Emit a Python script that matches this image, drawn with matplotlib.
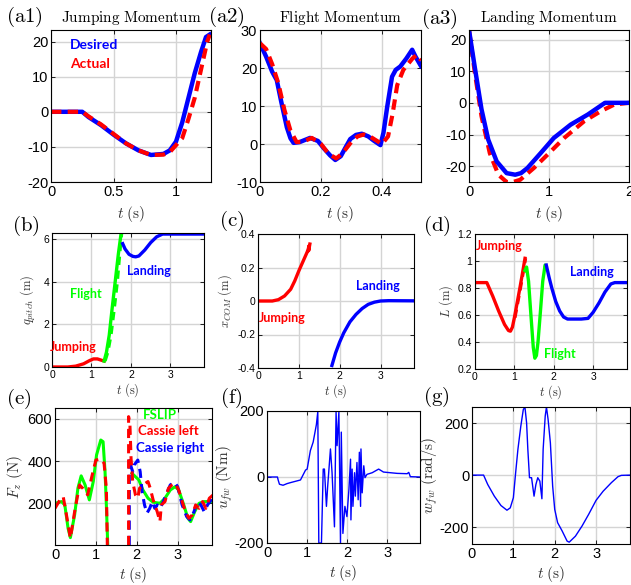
import matplotlib
matplotlib.use("Agg")
import matplotlib.pyplot as plt
from matplotlib.ticker import FormatStrFormatter

plt.rcParams['font.family'] = ['Liberation Sans', 'DejaVu Sans']
plt.rcParams['mathtext.fontset'] = 'cm'
plt.rcParams['axes.unicode_minus'] = False

# (a1) jumping momentum
a1_t_des = [0, 0.25, 0.3, 0.4, 0.5, 0.6, 0.7, 0.8, 0.9, 0.95, 1.0, 1.05, 1.1, 1.15, 1.2, 1.24, 1.27]
a1_des = [0, 0, -1.5, -3.8, -6.5, -9, -11, -12.3, -12, -11, -8.5, -3, 4, 11, 17, 21.3, 22]
a1_t_act = [0, 0.25, 0.3, 0.4, 0.5, 0.6, 0.7, 0.8, 0.9, 0.95, 1.0, 1.05, 1.1, 1.15, 1.2, 1.25, 1.27]
a1_act = [0, 0, -1.3, -3.6, -6.3, -9, -11, -12.3, -12.2, -11.5, -9.5, -7.5, -2, 4, 12, 20, 22]

# (a2) flight momentum
a2_t_des = [0, 0.02, 0.04, 0.055, 0.07, 0.088, 0.1, 0.11, 0.13, 0.164, 0.19, 0.21, 0.23, 0.247,
            0.265, 0.28, 0.296, 0.315, 0.334, 0.355, 0.373, 0.395, 0.405, 0.417, 0.433, 0.445,
            0.46, 0.48, 0.499, 0.51, 0.528]
a2_des = [26.5, 23, 19, 16.8, 11, 4.4, 1.5, 0.3, 0.5, 1.6, 0.8, -1.2, -3, -4.2,
          -3.2, -1, 1.3, 2.4, 2.7, 2, 0.9, -0.3, 3, 9.7, 17.7, 19.5,
          20.4, 22.5, 24.8, 23, 20.5]
a2_t_act = [0, 0.02, 0.04, 0.06, 0.08, 0.1, 0.12, 0.14, 0.17, 0.2, 0.225, 0.25, 0.27, 0.3,
            0.32, 0.34, 0.36, 0.38, 0.4, 0.42, 0.435, 0.45, 0.47, 0.5, 0.515, 0.528]
a2_act = [26.5, 25, 21, 16, 9, 3.5, 0.5, 0.6, 1.6, 0, -2.6, -3.8, -2.5, 0.6,
          2, 2.5, 2, 1, 0, 2, 8, 15.5, 19.5, 22.5, 23.5, 22]

# (a3) landing momentum
a3_t_des = [0, 0.07, 0.156, 0.24, 0.346, 0.47, 0.578, 0.65, 0.73, 0.895, 1.06, 1.27, 1.485, 1.70, 2.0]
a3_des = [23, 11.6, -2, -11.6, -18.5, -22.2, -22.7, -22.2, -20.6, -15.9, -11.1, -6.9, -3.7, 0, 0]
a3_t_act = [0, 0.07, 0.156, 0.26, 0.367, 0.47, 0.55, 0.64, 0.81, 0.98, 1.19, 1.44, 1.65, 1.82, 2.0]
a3_act = [23, 10, -4.2, -15.9, -22.7, -25, -25, -24.3, -20.6, -16.4, -11.1, -5.8, -2.6, -0.5, 0]

# (b) pitch
b_t_jump = [0, 0.4, 0.6, 0.8, 0.95, 1.05, 1.15, 1.25, 1.32]
b_jump = [0, 0, 0.04, 0.15, 0.3, 0.38, 0.38, 0.32, 0.28]
b_t_fl = [1.32, 1.38, 1.45, 1.52, 1.6, 1.68, 1.75]
b_fl = [0.28, 0.7, 1.5, 2.7, 4.0, 5.3, 6.28]
b_t_fl2 = [1.35, 1.42, 1.5, 1.58, 1.66, 1.72, 1.77]
b_t_land = [1.79, 1.85, 1.95, 2.05, 2.12, 2.2, 2.35, 2.5, 2.65, 2.8, 3.85]
b_land = [5.8, 5.55, 5.3, 5.2, 5.18, 5.22, 5.5, 5.85, 6.12, 6.25, 6.25]

# (c) x_COM
c_t_jump = [0, 0.35, 0.5, 0.65, 0.8, 0.9, 1.0, 1.1, 1.2, 1.23, 1.25, 1.24, 1.27]
c_jump = [0, 0, 0.008, 0.03, 0.07, 0.12, 0.18, 0.235, 0.29, 0.31, 0.33, 0.3, 0.34]
c_t_land = [1.81, 1.9, 2.0, 2.1, 2.25, 2.4, 2.55, 2.7, 2.85, 3.0, 3.2, 3.82]
c_land = [-0.385, -0.31, -0.245, -0.19, -0.125, -0.08, -0.045, -0.02, -0.007, 0.0, 0.002, 0.001]

# (d) leg length
d_t_jump = [0, 0.3, 0.45, 0.6, 0.75, 0.85, 0.9, 0.95, 1.0, 1.07, 1.14, 1.2, 1.27]
d_jump = [0.84, 0.84, 0.74, 0.63, 0.53, 0.485, 0.48, 0.51, 0.58, 0.69, 0.8, 0.9, 1.02]
d_t_fl = [1.27, 1.31, 1.36, 1.42, 1.48, 1.52, 1.56, 1.6, 1.66, 1.72, 1.78, 1.8]
d_fl = [0.93, 0.955, 0.85, 0.6, 0.36, 0.28, 0.3, 0.4, 0.62, 0.85, 0.97, 0.96]
d_t_land = [1.81, 1.88, 1.95, 2.05, 2.15, 2.25, 2.35, 2.5, 2.7, 2.87, 3.0, 3.15, 3.3, 3.45, 3.55, 3.86]
d_land = [0.97, 0.88, 0.8, 0.7, 0.63, 0.585, 0.57, 0.57, 0.57, 0.575, 0.62, 0.69, 0.77, 0.83, 0.84, 0.84]

# (e) vertical force
e_t_slip = [0, 0.16, 0.24, 0.32, 0.376, 0.48, 0.56, 0.64, 0.736, 0.84, 0.936, 1.016, 1.12, 1.176,
            1.224, 1.256, 1.29]
e_slip = [200, 208, 192, 81, 37, 145, 271, 330, 287, 216, 303, 429, 500, 492,
          350, 192, 2]
e_t_slip2 = [1.883, 1.967, 2.05, 2.15, 2.275, 2.4, 2.567, 2.69, 2.82, 2.94, 3.025, 3.15, 3.25,
             3.317, 3.417, 3.525, 3.65, 3.87]
e_slip2 = [342, 326, 311, 263, 224, 205, 200, 224, 263, 279, 263, 192, 129,
           113, 160, 200, 208, 208]
e_t_left = [0, 0.12, 0.2, 0.28, 0.376, 0.48, 0.6, 0.68, 0.8, 0.9, 1.0, 1.12, 1.2, 1.256, 1.28]
e_left = [176, 216, 232, 145, 34, 160, 287, 271, 240, 326, 405, 410, 390, 271, 2]
e_t_left2 = [1.8, 1.8, 1.833, 1.86, 1.9, 1.967, 2.025, 2.067, 2.15, 2.275, 2.33, 2.4, 2.5, 2.567,
             2.6, 2.69, 2.775, 2.86, 2.94, 3.025, 3.11, 3.19, 3.275, 3.36, 3.44, 3.525, 3.61,
             3.69, 3.775, 3.87]
e_left2 = [2, 611, 571, 413, 303, 240, 224, 271, 287, 303, 271, 216, 160, 113,
           192, 208, 271, 287, 295, 263, 208, 160, 129, 145, 192, 176, 208,
           176, 224, 240]
e_t_right = [1.817, 1.817, 1.86, 1.9, 1.94, 2.025, 2.083, 2.13, 2.19, 2.25, 2.317, 2.38, 2.44, 2.5,
             2.567, 2.65, 2.73, 2.82, 2.92, 3.0, 3.11, 3.22, 3.3, 3.4, 3.48, 3.57, 3.65, 3.73,
             3.82, 3.87]
e_right = [2, 413, 374, 350, 382, 405, 350, 255, 192, 153, 176, 208, 176, 192,
           176, 208, 247, 287, 300, 279, 192, 137, 121, 160, 208, 192, 160, 192,
           216, 240]

# (f) flywheel torque
f_t = [0, 0, 0.26, 0.28, 0.31, 0.4, 0.5, 0.586, 0.834, 0.96, 1.0, 1.08, 1.15, 1.23, 1.265,
       1.29, 1.356, 1.40, 1.43, 1.48, 1.51, 1.58, 1.62, 1.68, 1.72, 1.745, 1.79, 1.83, 1.85,
       1.89, 1.94, 1.99, 2.04, 2.08, 2.09, 2.12, 2.14, 2.18, 2.2, 2.24, 2.27, 2.30, 2.33,
       2.34, 2.37, 2.41, 2.44, 2.49, 2.62, 2.78, 2.9, 3.24, 3.49, 3.53, 3.57, 3.82]
f_u = [-167, 0, 0, -10, -22, -25, -20, -17, -9, 21, 24, 80, 106, 159, 198,
       -200, -200, 24, 24, -89, -30, 85, 13, -151, 198, 95, 198, -200, 136,
       -171, -89, -120, -38, 54, -130, 24, -89, 13, -58, 44, -69, 75, -89,
       85, -48, 34, -2, 8, 13, 24, 15, 11, 10, 14, 1, 0]

# (g) flywheel speed
g_t = [0, 0.28, 0.38, 0.54, 0.70, 0.845, 0.925, 1.0, 1.055, 1.11, 1.18, 1.24, 1.28, 1.32, 1.35,
       1.39, 1.44, 1.5, 1.545, 1.59, 1.64, 1.69, 1.72, 1.77, 1.80, 1.84, 1.895, 1.95, 2.0,
       2.07, 2.18, 2.3, 2.35, 2.5, 2.66, 2.82, 3.0, 3.17, 3.37, 3.53, 3.61, 3.81]
g_w = [0, 0, -36, -81, -117, -135, -126, -87, 9, 99, 188, 252, 262, 201, 99,
       -10, -10, -81, -36, -10, -23, -91, 99, 227, 262, 214, 124, -42, -132,
       -183, -215, -254, -258, -235, -196, -151, -97, -62, -29, -6, -1, 0]

W, H = 631, 585
fig = plt.figure(figsize=(W / 100, H / 100), dpi=100)


def box(l, t, r, b):
    return [l / W, 1 - b / H, (r - l) / W, (b - t) / H]


def fpos(x, y):
    return x / W, 1 - y / H


def style(ax, xlim, ylim, xticks, yticks, fs):
    ax.set_xlim(xlim)
    ax.set_ylim(ylim)
    ax.set_xticks(xticks)
    ax.set_yticks(yticks)
    ax.xaxis.set_major_formatter(FormatStrFormatter('%g'))
    ax.yaxis.set_major_formatter(FormatStrFormatter('%g'))
    ax.grid(True, color='#d4d4d4', lw=1.0)
    ax.set_axisbelow(True)
    ax.tick_params(direction='in', length=3, width=0.6, labelsize=fs, pad=2,
                   top=True, right=True, labeltop=False, labelright=False)
    for s in ax.spines.values():
        s.set_linewidth(0.8)


lab_col = '#333333'
blue, red, green = '#0000ff', '#ff0000', '#00ff00'
bold = dict(fontweight='bold', family=['Lato', 'DejaVu Sans'])

# row 1
ax = fig.add_axes(box(51, 30, 211, 182))
ax.plot(a1_t_des, a1_des, color=blue, lw=3.2)
ax.plot(a1_t_act, a1_act, color=red, lw=3.0, ls=(0, (2.5, 1.5)))
style(ax, (0, 1.28), (-20, 23.3), [0, 0.5, 1], [-20, -10, 0, 10, 20], 10.5)
ax.set_title(r'$\mathrm{Jumping\ Momentum}$', fontsize=11, pad=6)
ax.set_xlabel(r'$t\ \mathrm{(s)}$', fontsize=11, color=lab_col, labelpad=4)
ax.text(0.15, 19.0, 'Desired', color=blue, fontsize=10, va='center', **bold)
ax.text(0.15, 13.6, 'Actual', color=red, fontsize=10, va='center', **bold)

ax = fig.add_axes(box(260, 30, 421, 182))
ax.plot(a2_t_des, a2_des, color=blue, lw=3.2)
ax.plot(a2_t_act, a2_act, color=red, lw=3.0, ls=(0, (2.5, 1.5)))
style(ax, (0, 0.528), (-10, 30), [0, 0.2, 0.4], [-10, 0, 10, 20, 30], 10.5)
ax.set_title(r'$\mathrm{Flight\ Momentum}$', fontsize=11, pad=6)
ax.set_xlabel(r'$t\ \mathrm{(s)}$', fontsize=11, color=lab_col, labelpad=4)

ax = fig.add_axes(box(469, 30, 629, 182))
ax.plot(a3_t_act, a3_act, color=red, lw=3.0, ls=(0, (2.5, 1.5)))
ax.plot(a3_t_des, a3_des, color=blue, lw=3.2)
style(ax, (0, 2.0), (-25, 23), [0, 1, 2], [-20, -10, 0, 10, 20], 10.5)
ax.set_title(r'$\mathrm{Landing\ Momentum}$', fontsize=11, pad=6)
ax.set_xlabel(r'$t\ \mathrm{(s)}$', fontsize=11, color=lab_col, labelpad=4)

# row 2
ax = fig.add_axes(box(52, 233, 204, 367))
ax.plot(b_t_jump, b_jump, color=red, lw=2.4)
ax.plot(b_t_fl2, b_fl, color=green, lw=2.0, ls=(0, (3, 2)))
ax.plot(b_t_fl, b_fl, color=green, lw=2.4)
ax.plot(b_t_land, b_land, color=blue, lw=2.4)
style(ax, (0, 3.85), (0, 6.3), [0, 1, 2, 3], [0, 2, 4, 6], 7.5)
ax.set_xlabel(r'$t\ \mathrm{(s)}$', fontsize=9, color=lab_col, labelpad=1)
ax.set_ylabel(r'$q_{pitch}\ \mathrm{(m)}$', fontsize=9, color=lab_col, labelpad=4)
ax.text(-0.05, 0.95, 'Jumping', color=red, fontsize=9, va='center', clip_on=False, **bold)
ax.text(0.46, 3.42, 'Flight', color=green, fontsize=9, va='center', **bold)
ax.text(1.9, 4.5, 'Landing', color=blue, fontsize=9, va='center', **bold)

ax = fig.add_axes(box(258, 234, 414, 368))
ax.plot(c_t_jump, c_jump, color=red, lw=2.4)
ax.plot(c_t_land, c_land, color=blue, lw=2.4)
style(ax, (0, 3.82), (-0.4, 0.4), [0, 1, 2, 3], [-0.4, -0.2, 0, 0.2, 0.4], 7.5)
ax.set_xlabel(r'$t\ \mathrm{(s)}$', fontsize=9, color=lab_col, labelpad=1)
ax.set_ylabel(r'$x_{COM}\ \mathrm{(m)}$', fontsize=9, color=lab_col, labelpad=2)
ax.text(0.02, -0.1, 'Jumping', color=red, fontsize=9, va='center', **bold)
ax.text(2.4, 0.09, 'Landing', color=blue, fontsize=9, va='center', **bold)

ax = fig.add_axes(box(475, 234, 627, 369))
ax.plot([t + 0.02 for t in d_t_jump[8:]], d_jump[8:], color=red, lw=2.0, ls=(0, (3, 2)))
ax.plot(d_t_jump, d_jump, color=red, lw=2.4)
ax.plot(d_t_fl, d_fl, color=green, lw=2.4)
ax.plot(d_t_land, d_land, color=blue, lw=2.4)
style(ax, (0, 3.86), (0.2, 1.2), [0, 1, 2, 3], [0.2, 0.4, 0.6, 0.8, 1, 1.2], 7.5)
ax.set_xlabel(r'$t\ \mathrm{(s)}$', fontsize=9, color=lab_col, labelpad=1)
ax.set_ylabel(r'$L\ \mathrm{(m)}$', fontsize=9, color=lab_col, labelpad=2)
ax.text(0.02, 1.11, 'Jumping', color=red, fontsize=9, va='center', **bold)
ax.text(1.75, 0.31, 'Flight', color=green, fontsize=9, va='center', **bold)
ax.text(2.42, 0.92, 'Landing', color=blue, fontsize=9, va='center', **bold)

# row 3
ax = fig.add_axes(box(55, 408, 212, 545))
ax.plot(e_t_slip, e_slip, color=green, lw=2.2)
ax.plot(e_t_slip2, e_slip2, color=green, lw=2.2)
ax.plot(e_t_left, e_left, color=red, lw=2.2, ls=(0, (3, 2)))
ax.plot(e_t_right, e_right, color=blue, lw=2.2, ls=(0, (3, 2)))
ax.plot(e_t_left2, e_left2, color=red, lw=2.2, ls=(0, (3, 2)))
style(ax, (0, 3.84), (2, 652), [0, 1, 2, 3], [200, 400, 600], 10.5)
ax.set_xlabel(r'$t\ \mathrm{(s)}$', fontsize=11, color=lab_col, labelpad=2)
ax.set_ylabel(r'$F_z\ \mathrm{(N)}$', fontsize=11, color=lab_col, labelpad=2)
ax.text(2.15, 617, 'FSLIP', color=green, fontsize=9.5, va='center', **bold)
ax.text(2.03, 545, 'Cassie left', color=red, fontsize=9.5, va='center', **bold)
ax.text(1.98, 460, 'Cassie right', color=blue, fontsize=9.5, va='center', **bold)

ax = fig.add_axes(box(267, 411, 420, 543))
ax.plot(f_t, f_u, color=blue, lw=1.0)
style(ax, (0, 3.81), (-200, 200), [0, 1, 2, 3], [-200, 0, 200], 10.5)
ax.set_xlabel(r'$t\ \mathrm{(s)}$', fontsize=11, color=lab_col, labelpad=2)
ax.set_ylabel(r'$u_{fw}\ \mathrm{(Nm)}$', fontsize=11, color=lab_col, labelpad=0)

ax = fig.add_axes(box(472, 407, 630, 544))
ax.plot(g_t, g_w, color=blue, lw=1.0)
style(ax, (0, 3.82), (-265, 262), [0, 1, 2, 3], [-200, 0, 200], 10.5)
ax.set_xlabel(r'$t\ \mathrm{(s)}$', fontsize=11, color=lab_col, labelpad=2)
ax.set_ylabel(r'$w_{fw}\ \mathrm{(rad/s)}$', fontsize=11, color=lab_col, labelpad=0)

# panel labels
panel_labels = ['(a1)', '(a2)', '(a3)', '(b)', '(c)', '(d)', '(e)', '(f)', '(g)']
label_px = [(6, 17), (208, 17), (421, 19), (12, 226), (219, 221), (423, 226),
            (6, 399), (220, 398), (423, 397)]
for s, (x, y) in zip(panel_labels, label_px):
    fig.text(*fpos(x, y), r'$\mathrm{' + s + '}$', fontsize=15, ha='left', va='center')

fig.savefig('out.png', dpi=100)
